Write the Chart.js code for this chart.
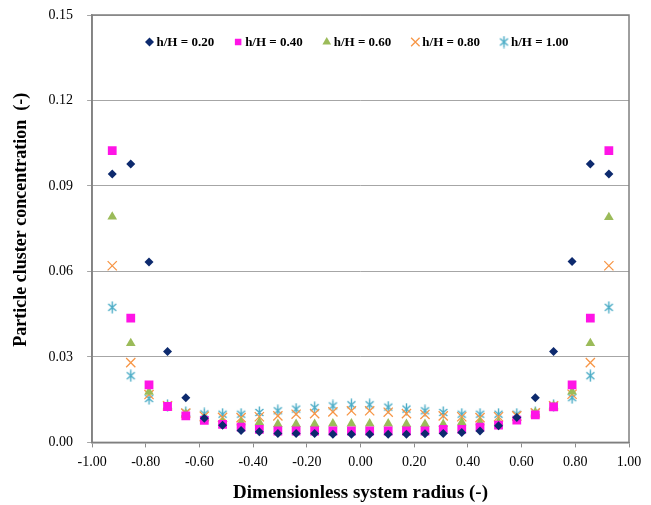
<!DOCTYPE html>
<html>
<head>
<meta charset="utf-8">
<script src="https://cdn.jsdelivr.net/npm/chart.js@4.4.1/dist/chart.umd.min.js"></script>
<style>
  body { margin: 0; background: #fff; }
  canvas { display: block; }
</style>
</head>
<body>
<canvas id="myChart" width="651" height="505"></canvas>
<script>
// radial positions of the cells (dimensionless)
var radius = [-0.925, -0.856, -0.788, -0.719, -0.651, -0.582, -0.514, -0.445, -0.377, -0.308, -0.240, -0.171, -0.103, -0.034,
              0.034, 0.103, 0.171, 0.240, 0.308, 0.377, 0.445, 0.514, 0.582, 0.651, 0.719, 0.788, 0.856, 0.925];

// particle cluster concentration at each height
var h020 = [0.0942, 0.0977, 0.0633, 0.0319, 0.0157, 0.0085, 0.0060, 0.0042, 0.0037, 0.0031, 0.0031, 0.0031, 0.0029, 0.0029,
            0.0029, 0.0029, 0.0029, 0.0030, 0.0031, 0.0035, 0.0040, 0.0058, 0.0087, 0.0157, 0.0319, 0.0635, 0.0977, 0.0942];
var h040 = [0.1024, 0.0436, 0.0202, 0.0126, 0.0093, 0.0077, 0.0063, 0.0054, 0.0046, 0.0040, 0.0040, 0.0040, 0.0040, 0.0040,
            0.0040, 0.0040, 0.0040, 0.0040, 0.0046, 0.0046, 0.0054, 0.0061, 0.0078, 0.0097, 0.0125, 0.0202, 0.0436, 0.1024];
var h060 = [0.0792, 0.0348, 0.0177, 0.0127, 0.0100, 0.0083, 0.0070, 0.0070, 0.0070, 0.0064, 0.0064, 0.0064, 0.0066, 0.0066,
            0.0066, 0.0066, 0.0064, 0.0064, 0.0064, 0.0070, 0.0070, 0.0070, 0.0085, 0.0105, 0.0128, 0.0178, 0.0348, 0.0790];
var h080 = [0.0620, 0.0280, 0.0168, 0.0128, 0.0103, 0.0092, 0.0088, 0.0087, 0.0090, 0.0093, 0.0099, 0.0101, 0.0107, 0.0111,
            0.0111, 0.0106, 0.0101, 0.0098, 0.0093, 0.0090, 0.0087, 0.0090, 0.0093, 0.0104, 0.0128, 0.0169, 0.0280, 0.0620];
var h100 = [0.0474, 0.0234, 0.0154, 0.0130, 0.0105, 0.0100, 0.0099, 0.0099, 0.0105, 0.0111, 0.0117, 0.0122, 0.0128, 0.0132,
            0.0132, 0.0124, 0.0117, 0.0111, 0.0105, 0.0099, 0.0099, 0.0099, 0.0099, 0.0105, 0.0130, 0.0157, 0.0234, 0.0474];

var seriesNames = ['h/H = 0.20', 'h/H = 0.40', 'h/H = 0.60', 'h/H = 0.80', 'h/H = 1.00'];
var seriesValues = [h020, h040, h060, h080, h100];
var seriesColors = ['#0d2a6e', '#ff14e6', '#9bbb59', '#f79646', '#4bacc6'];

var yTicks = [0, 0.03, 0.06, 0.09, 0.12, 0.15];

// Excel-like asterisk marker: an X plus a vertical stroke
function asterisk(color) {
  var c = document.createElement('canvas');
  c.width = 13; c.height = 13;
  var g = c.getContext('2d');
  g.strokeStyle = color;
  g.lineWidth = 1.4;
  g.beginPath();
  g.moveTo(2.5, 3); g.lineTo(10.5, 10);
  g.moveTo(10.5, 3); g.lineTo(2.5, 10);
  g.moveTo(6.5, 0.5); g.lineTo(6.5, 12.5);
  g.stroke();
  return c;
}

var seriesShapes = ['rectRot', 'rect', 'triangle', 'crossRot', asterisk(seriesColors[4])];
var seriesSizes = [4.5, 6.2, 5.6, 6.5, 6];

function points(values) {
  return radius.map(function (x, i) { return { x: x, y: values[i] }; });
}

var datasets = seriesNames.map(function (name, i) {
  return {
    label: name,
    data: points(seriesValues[i]),
    pointStyle: seriesShapes[i],
    pointRadius: seriesSizes[i],
    pointHoverRadius: seriesSizes[i],
    backgroundColor: seriesColors[i],
    borderColor: seriesColors[i],
    borderWidth: seriesShapes[i] === 'crossRot' ? 1.3 : 0
  };
});

var serif = 'Liberation Serif';
var legendSizes = { rectRot: 4.5, rect: 4.6, triangle: 5, crossRot: 6 };

// frame round the plot area + the legend that sits inside it
var frame = {
  id: 'frame',
  afterDatasetsDraw: function (chart) {
    var a = chart.chartArea, ctx = chart.ctx;
    ctx.save();
    ctx.strokeStyle = '#7f7f7f';
    ctx.lineWidth = 1.5;
    ctx.strokeRect(a.left, a.top, a.right - a.left, a.bottom - a.top);

    ctx.font = 'bold 13px "' + serif + '"';
    ctx.textBaseline = 'middle';
    var gap = 19, mark = 12;
    var widths = chart.data.datasets.map(function (d) { return mark + ctx.measureText(d.label).width; });
    var total = widths.reduce(function (s, w) { return s + w; }, 0) + gap * (widths.length - 1);
    var x = (a.left + a.right) / 2 - total / 2 - 3;
    var y = a.top + 27;
    chart.data.datasets.forEach(function (d, i) {
      var r = legendSizes[d.pointStyle] || d.pointRadius;
      ctx.fillStyle = d.backgroundColor;
      ctx.strokeStyle = d.borderColor;
      ctx.lineWidth = d.borderWidth;
      Chart.helpers.drawPoint(ctx, { pointStyle: d.pointStyle, radius: r, borderWidth: d.borderWidth }, x + 4, y);
      ctx.fillStyle = '#000';
      ctx.fillText(d.label, x + mark - 1, y + 1);
      x += widths[i] + gap;
    });
    ctx.restore();
  }
};

var ctx = document.getElementById('myChart').getContext('2d');
var chart = new Chart(ctx, {
  type: 'scatter',
  data: { datasets: datasets },
  plugins: [frame],
  options: {
    responsive: false,
    animation: false,
    layout: { padding: { left: 11, right: 22, top: 0, bottom: 1 } },
    plugins: {
      tooltip: { enabled: false },
      legend: { display: false }
    },
    scales: {
      x: {
        type: 'linear',
        min: -1,
        max: 1,
        ticks: {
          stepSize: 0.2,
          color: '#000',
          padding: 7,
          font: { family: serif, size: 14 },
          callback: function (v) { return v.toFixed(2); }
        },
        grid: { drawOnChartArea: false, tickLength: 5, color: '#8c8c8c' },
        border: { color: '#8c8c8c', width: 1.5 },
        title: {
          display: true,
          text: 'Dimensionless system radius (-)',
          color: '#000',
          font: { family: serif, size: 19, weight: 'bold' },
          padding: { top: 3, bottom: 0 }
        }
      },
      y: {
        min: 0,
        max: 0.15,
        afterBuildTicks: function (axis) { axis.ticks = yTicks.map(function (v) { return { value: v }; }); },
        afterFit: function (axis) { axis.paddingTop = 15; },
        ticks: {
          color: '#000',
          font: { family: serif, size: 14 },
          padding: 14,
          callback: function (v) { return v.toFixed(2); }
        },
        grid: { color: '#a6a6a6', lineWidth: 1, tickLength: 5 },
        border: { color: '#8c8c8c', width: 1.5 },
        title: {
          display: true,
          // leading spaces nudge the rotated title up a little, as in the original
          text: '    Particle cluster concentration  (-)',
          color: '#000',
          font: { family: serif, size: 18, weight: 'bold' },
          padding: { top: 0, bottom: 2 }
        }
      }
    }
  }
});
</script>
</body>
</html>
